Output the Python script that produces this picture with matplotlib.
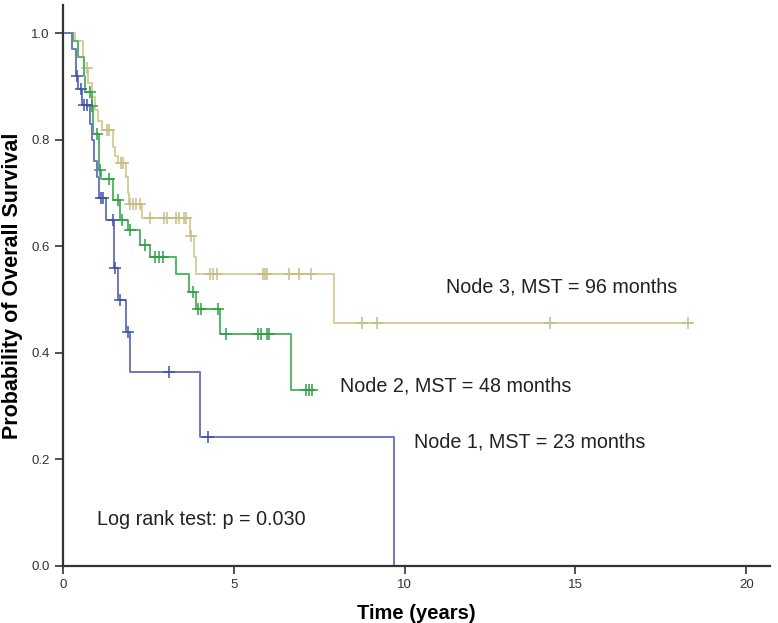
import matplotlib
matplotlib.use('Agg')
import matplotlib.pyplot as plt
from matplotlib import font_manager
import numpy as np

plt.rcParams['font.family'] = ['Liberation Sans', 'DejaVu Sans']

# condensed face for the axis titles, if present
names = {f.name for f in font_manager.fontManager.ttflist}
LABEL_FONT = 'Liberation Sans Narrow' if 'Liberation Sans Narrow' in names else 'Liberation Sans'

# ── Kaplan-Meier data (time in years, survival after step) ──
n1_t = [0.25, 0.38, 0.45, 0.55, 0.78, 0.85, 0.90, 1.00, 1.05, 1.25, 1.48, 1.62, 1.85, 1.95, 4.0, 9.7]
n1_s = [0.97, 0.92, 0.895, 0.865, 0.83, 0.80, 0.76, 0.73, 0.69, 0.65, 0.56, 0.50, 0.44, 0.365, 0.243, 0.0]
n1_cens = [0.42, 0.53, 0.60, 0.70, 1.10, 1.17, 1.45, 1.53, 1.68, 1.90, 3.1, 4.25]
n1_end = 9.7

n2_t = [0.30, 0.45, 0.60, 0.65, 0.85, 0.88, 1.05, 1.12, 1.45, 1.68, 1.90, 2.25, 2.55, 3.3, 3.7, 3.9, 4.6, 6.66]
n2_s = [0.985, 0.955, 0.92, 0.89, 0.863, 0.81, 0.743, 0.726, 0.687, 0.65, 0.63, 0.602, 0.58, 0.548, 0.514, 0.482, 0.435, 0.33]
n2_cens = [0.78, 0.85, 1.0, 1.08, 1.35, 1.6, 1.73, 1.96, 2.4, 2.7, 2.8, 2.93, 3.8, 3.95, 4.05, 4.55,
           4.78, 5.72, 5.8, 5.98, 6.02, 7.1, 7.2, 7.3]
n2_end = 7.35

n3_t = [0.35, 0.58, 0.62, 0.72, 0.85, 0.93, 1.03, 1.15, 1.45, 1.53, 1.60, 1.83, 1.90, 1.92, 2.3, 3.72, 3.82, 3.9, 7.92]
n3_s = [0.985, 0.955, 0.935, 0.906, 0.88, 0.855, 0.836, 0.818, 0.786, 0.77, 0.756, 0.73, 0.70, 0.68, 0.653, 0.62, 0.58, 0.548, 0.457]
n3_cens = [0.7, 1.3, 1.35, 1.7, 1.75, 1.97, 2.05, 2.15, 2.25, 2.55, 2.95, 3.05, 3.3, 3.4, 3.55, 3.6, 3.75,
           4.3, 4.4, 4.5, 5.86, 5.92, 5.98, 6.6, 6.9, 7.27, 8.74, 9.2, 14.25, 18.3]
n3_end = 18.4

groups = [
    (n3_t, n3_s, n3_cens, n3_end, '#d6cf9b', '#c6bd84'),
    (n2_t, n2_s, n2_cens, n2_end, '#52b963', '#2f9e44'),
    (n1_t, n1_s, n1_cens, n1_end, '#7077c4', '#4050a8'),
]


def surv_at(t, times, surv):
    s = 1.0
    for ti, si in zip(times, surv):
        if ti <= t:
            s = si
    return s


fig = plt.figure(figsize=(7.78, 6.23), dpi=100)
ax = fig.add_axes([0.081, 0.0915, 0.909, 0.9005])

for times, surv, cens, end, col, mcol in groups:
    xs = [0.0] + list(times) + [end]
    ys = [1.0] + list(surv) + [surv[-1]]
    ax.step(xs, ys, where='post', color=col, lw=1.4)
    cy = [surv_at(c, times, surv) for c in cens]
    ax.plot(cens, cy, ls='none', marker='+', ms=8, mew=1.1, color=mcol)

fs = 14.2
ax.text(11.2, 0.523, 'Node 3, MST = 96 months', fontsize=fs, va='center', color='#222222')
ax.text(8.12, 0.338, 'Node 2, MST = 48 months', fontsize=fs, va='center', color='#222222')
ax.text(10.26, 0.232, 'Node 1, MST = 23 months', fontsize=fs, va='center', color='#222222')
ax.text(1.0, 0.088, 'Log rank test: p = 0.030', fontsize=fs, va='center', color='#222222')

ax.set_xlim(0, 20.7)
ax.set_ylim(0, 1.053)
ax.set_xticks([0, 5, 10, 15, 20])
ax.set_yticks([0.0, 0.2, 0.4, 0.6, 0.8, 1.0])
ax.set_yticklabels(['0.0', '0.2', '0.4', '0.6', '0.8', '1.0'])
ax.tick_params(labelsize=9.5, colors='#333333', length=6, width=1.2)
for side in ['top', 'right']:
    ax.spines[side].set_visible(False)
for side in ['left', 'bottom']:
    ax.spines[side].set_linewidth(1.6)
    ax.spines[side].set_color('#333333')

narrow = LABEL_FONT != 'Liberation Sans'
ax.set_xlabel('Time (years)', fontsize=17.5 if narrow else 14.5, fontweight='bold',
              family=LABEL_FONT, labelpad=9)
ax.set_ylabel('Probability of Overall Survival', fontsize=18.5 if narrow else 15.5,
              fontweight='bold', family=LABEL_FONT, labelpad=6)

fig.savefig('out.png', dpi=100)
